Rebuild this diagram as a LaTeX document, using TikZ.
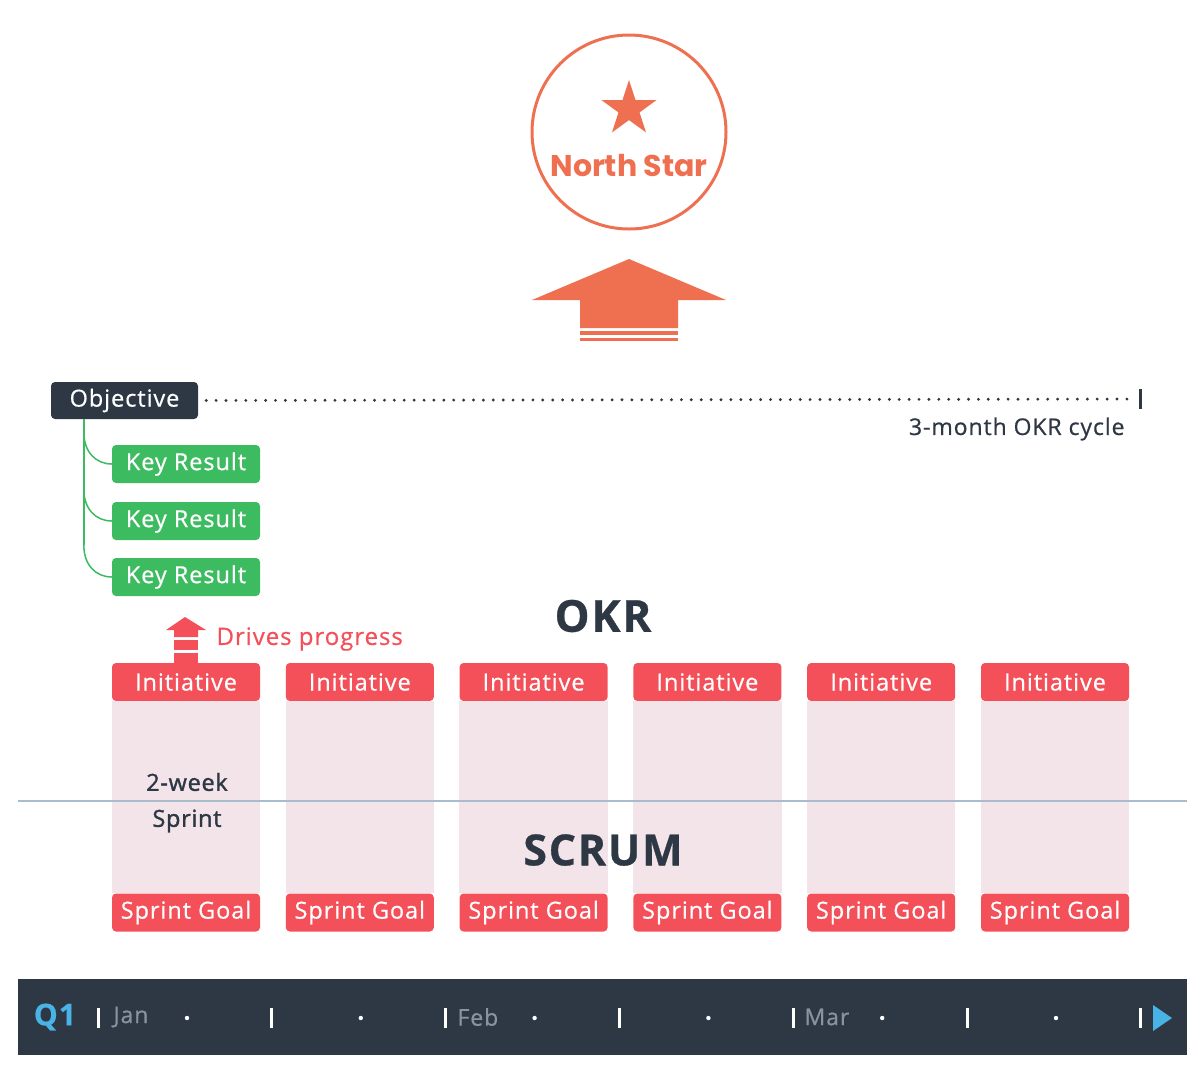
\documentclass[tikz,border=0pt]{standalone}
\usepackage{fontspec}
\setmainfont{Open Sans}[LetterSpace=4, FakeBold=0.6]
\newfontfamily\starfont{Poppins}
\newfontfamily\semifont{Open Sans}[LetterSpace=3, FakeBold=1.4]
\usetikzlibrary{shapes.geometric,positioning}
\definecolor{slate}{HTML}{2E3744}
\definecolor{leaf}{HTML}{3DBB61}
\definecolor{coral}{HTML}{F4505A}
\definecolor{salmon}{HTML}{EE7050}
\definecolor{blush}{HTML}{F2E4E8}
\definecolor{sky}{HTML}{4AB3E6}
\definecolor{mist}{HTML}{A9BCCB}
\definecolor{fog}{HTML}{8A94A0}
\tikzset{
    tag/.style={
        rounded corners=4pt,
        minimum width=148pt,
        minimum height=38pt,
        inner sep=0pt,
        text=white,
        font=\fontsize{23.5}{27}\selectfont
    },
    keyres/.style={tag, fill=leaf},
    initbox/.style={tag, fill=coral},
    goalbox/.style={tag, fill=coral},
    objbox/.style={tag, fill=slate, minimum width=147pt, minimum height=37pt},
    bigword/.style={
        font=\fontsize{43}{48}\selectfont\bfseries,
        text=slate
    },
    tickbar/.style={white, line width=3pt},
    month/.style={anchor=west, text=fog, font=\fontsize{23}{26}\selectfont}
}

\begin{document}
\begin{tikzpicture}[x=1pt,y=-1pt]
\useasboundingbox (0,0) rectangle (1204,1080);

% north star
\node[circle, draw=salmon, line width=3pt, minimum size=194pt] (north) at (629,132) {};
\node[star, star points=5, star point ratio=2.618, fill=salmon, minimum size=58pt, inner sep=0pt] (star) at (629,109) {};
\node[text=salmon, font=\starfont\fontsize{30}{36}\selectfont\bfseries] (northtxt) at (629,166) {North Star};

% big arrow
\fill[salmon] (629,259) -- (726,300) -- (678,300) -- (678,328) -- (580,328) -- (580,300) -- (532,300) -- cycle;
\fill[salmon] (580,331) rectangle (678,335);
\fill[salmon] (580,338) rectangle (678,341);

% objective and key results
\node[objbox] (obj) at (124.5,400.5) {Objective};
\coordinate (cycleend) at (1140,399);
\draw[slate, line width=3.2pt, line cap=round, dash pattern=on 0pt off 9.9pt, shorten <=8pt, shorten >=7pt] (obj.east) -- (cycleend);
\draw[slate, line width=3pt] (1140,389) -- (1140,409);
\node[anchor=east, text=slate, font=\fontsize{23}{26}\selectfont] (cycle) at (1128,429) {3-month OKR cycle};

\node[keyres] (kr1) at (186,464) {Key Result};
\node[keyres] (kr2) at (186,521) {Key Result};
\node[keyres] (kr3) at (186,577) {Key Result};
\draw[leaf, line width=1.5pt] (obj.south -| 84,0) -- (84,545);
\foreach \k in {1,2,3}
  \draw[leaf, line width=1.5pt] (kr\k.west) ++(-28,-32) .. controls +(0,20) and +(-16,0) .. (kr\k.west);

\node[bigword, font=\fontsize{44}{50}\selectfont\bfseries] (okr) at (603,616) {OKR};

% drives progress arrow
\fill[coral] (185,617) -- (206,630) -- (198,630) -- (198,637) -- (174,637) -- (174,630) -- (166,630) -- cycle;
\fill[coral] (174,640) rectangle (198,650);
\fill[coral] (174,653) rectangle (198,663);
\node[anchor=west, text=coral, font=\fontsize{24}{28}\selectfont] (drives) at (213,639) {Drives progress};

% sprints
\foreach \i in {1,...,6} {
  \pgfmathsetmacro\xx{186+173.8*(\i-1)}
  \node[initbox] (init\i) at (\xx,682) {Initiative};
  \node[goalbox] (goal\i) at (\xx,912.5) {Sprint Goal};
  \fill[blush] (init\i.south west) rectangle (goal\i.north east);
}
\draw[mist, line width=2.5pt] (18,801) -- (1187,801);
\node[text=slate, font=\semifont\fontsize{23.5}{27}\selectfont] (twoweek) at (187,782) {2-week};
\node[text=slate, font=\semifont\fontsize{23.5}{27}\selectfont] (sprint) at (187,821) {Sprint};
\node[bigword] (scrum) at (603,850) {SCRUM};

% timeline
\fill[slate] (18,979) rectangle (1187,1055);
\node[text=sky, font=\fontsize{30}{34}\selectfont\bfseries] (q1) at (55,1017) {Q1};
\foreach \k in {0,...,6}
  \draw[tickbar] (98+173.8*\k,1008) -- (98+173.8*\k,1028);
\foreach \k in {0,...,5}
  \fill[white] (187+173.8*\k,1018) circle (2.2pt);
\node[month] (jan) at (110,1017) {Jan};
\node[month] (feb) at (454,1017) {Feb};
\node[month] (mar) at (801,1017) {Mar};
\fill[sky] (1153,1005) -- (1172,1018) -- (1153,1031) -- cycle;
\end{tikzpicture}
\end{document}
